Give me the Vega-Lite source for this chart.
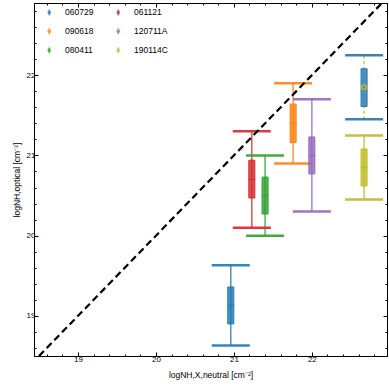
{
  "$schema": "https://vega.github.io/schema/vega-lite/v6.json",
  "width": 353,
  "height": 353,
  "autosize": {"type": "none"},
  "padding": {"left": 34, "top": 3, "right": 2, "bottom": 33},
  "config": {
    "font": "Liberation Sans",
    "view": {"stroke": "black", "strokeWidth": 1},
    "axis": {"grid": false, "domainColor": "black", "tickColor": "black", "labelColor": "black", "titleColor": "black", "labelFont": "Liberation Sans", "titleFont": "Liberation Sans", "labelFontSize": 8, "titleFontSize": 8.5, "titleFontWeight": "normal", "labelOverlap": false, "labelFlush": false}
  },
  "datasets": {
    "grbs": [
      {"grb": "060729", "set": "main", "x": 20.96, "lo": 18.63, "hi": 19.63, "q1": 18.90, "q3": 19.36, "med": 19.13},
      {"grb": "061121", "set": "main", "x": 21.23, "lo": 20.10, "hi": 21.30, "q1": 20.47, "q3": 20.94, "med": 20.70},
      {"grb": "080411", "set": "main", "x": 21.40, "lo": 20.00, "hi": 21.00, "q1": 20.27, "q3": 20.73, "med": 20.50},
      {"grb": "090618", "set": "main", "x": 21.76, "lo": 20.90, "hi": 21.90, "q1": 21.16, "q3": 21.64, "med": 21.40},
      {"grb": "120711A", "set": "main", "x": 22.00, "lo": 20.30, "hi": 21.70, "q1": 20.77, "q3": 21.23, "med": 21.00},
      {"grb": "190114C", "set": "main", "x": 22.67, "lo": 20.45, "hi": 21.25, "q1": 20.62, "q3": 21.08, "med": 20.85},
      {"grb": "060729", "set": "extra", "x": 22.67, "lo": 21.45, "hi": 22.25, "q1": 21.61, "q3": 22.08, "med": 21.85}
    ],
    "overlay": [
      {"grb": "190114C", "x": 22.67, "lo": 21.45, "hi": 22.25, "med": 21.85}
    ],
    "diag": [
      {"x": 18.5, "y": 18.5, "x2": 22.9, "y2": 22.9}
    ]
  },
  "resolve": {"axis": {"x": "independent", "y": "independent"}},
  "layer": [
    {
      "data": {"name": "overlay"},
      "mark": {"type": "rule", "strokeDash": [3, 2.5], "strokeWidth": 1.2, "clip": true},
      "encoding": {
        "x": {"field": "x", "type": "quantitative", "scale": {"domain": [18.5, 22.9], "nice": false, "zero": false},
          "axis": {"orient": "bottom", "title": "logNH,X,neutral [cm⁻²]", "titlePadding": 5,
            "values": [18.6,18.8,19,19.2,19.4,19.6,19.8,20,20.2,20.4,20.6,20.8,21,21.2,21.4,21.6,21.8,22,22.2,22.4,22.6,22.8],
            "labelExpr": "abs(datum.value - round(datum.value)) < 0.001 ? format(datum.value, 'd') : ''",
            "tickSize": {"condition": {"test": "abs(datum.value - round(datum.value)) < 0.001", "value": -4}, "value": -2},
            "labelPadding": 3}},
        "y": {"field": "lo", "type": "quantitative", "scale": {"domain": [18.5, 22.9], "nice": false, "zero": false},
          "axis": {"orient": "left", "title": "logNH,optical [cm⁻²]", "titlePadding": 5,
            "values": [18.6,18.8,19,19.2,19.4,19.6,19.8,20,20.2,20.4,20.6,20.8,21,21.2,21.4,21.6,21.8,22,22.2,22.4,22.6,22.8],
            "labelExpr": "abs(datum.value - round(datum.value)) < 0.001 ? format(datum.value, 'd') : ''",
            "tickSize": {"condition": {"test": "abs(datum.value - round(datum.value)) < 0.001", "value": -4}, "value": -2},
            "labelPadding": 3}},
        "y2": {"field": "hi"},
        "color": {"field": "grb", "type": "nominal",
          "scale": {"domain": ["060729", "090618", "080411", "061121", "120711A", "190114C"],
                    "range": ["#1f77b4", "#ff7f0e", "#2ca02c", "#d62728", "#9467bd", "#bcbd22"]},
          "legend": {"title": null, "orient": "none", "legendX": 11, "legendY": 5, "columns": 2, "padding": 0,
            "symbolType": "M0,-1L0.55,0L0,1L-0.55,0Z", "symbolSize": 49, "symbolStrokeWidth": 0,
            "labelFont": "Liberation Sans", "labelFontSize": 8.5, "labelColor": "black", "labelOffset": 11.5,
            "rowPadding": 10, "columnPadding": 20}}
      }
    },
    {
      "data": {"name": "grbs"},
      "transform": [{"filter": "datum.set == 'main'"}],
      "mark": {"type": "rule", "strokeWidth": 1.5, "opacity": 0.8, "clip": true},
      "encoding": {
        "x": {"field": "x", "type": "quantitative",
          "axis": {"orient": "top", "title": null, "labels": false,
            "values": [18.6,18.8,19,19.2,19.4,19.6,19.8,20,20.2,20.4,20.6,20.8,21,21.2,21.4,21.6,21.8,22,22.2,22.4,22.6,22.8],
            "tickSize": {"condition": {"test": "abs(datum.value - round(datum.value)) < 0.001", "value": -4}, "value": -2}}},
        "y": {"field": "lo", "type": "quantitative",
          "axis": {"orient": "right", "title": null, "labels": false,
            "values": [18.6,18.8,19,19.2,19.4,19.6,19.8,20,20.2,20.4,20.6,20.8,21,21.2,21.4,21.6,21.8,22,22.2,22.4,22.6,22.8],
            "tickSize": {"condition": {"test": "abs(datum.value - round(datum.value)) < 0.001", "value": -4}, "value": -2}}},
        "y2": {"field": "hi"},
        "color": {"field": "grb", "type": "nominal"}
      }
    },
    {
      "data": {"name": "grbs"},
      "mark": {"type": "tick", "orient": "horizontal", "size": 38, "thickness": 2.5, "opacity": 0.9, "clip": true},
      "encoding": {
        "x": {"field": "x", "type": "quantitative", "axis": null},
        "y": {"field": "lo", "type": "quantitative", "axis": null},
        "color": {"field": "grb", "type": "nominal"}
      }
    },
    {
      "data": {"name": "grbs"},
      "mark": {"type": "tick", "orient": "horizontal", "size": 38, "thickness": 2.5, "opacity": 0.9, "clip": true},
      "encoding": {
        "x": {"field": "x", "type": "quantitative", "axis": null},
        "y": {"field": "hi", "type": "quantitative", "axis": null},
        "color": {"field": "grb", "type": "nominal"}
      }
    },
    {
      "data": {"name": "grbs"},
      "mark": {"type": "bar", "width": 6, "fillOpacity": 0.8, "strokeWidth": 1, "clip": true},
      "encoding": {
        "x": {"field": "x", "type": "quantitative", "axis": null},
        "y": {"field": "q1", "type": "quantitative", "axis": null},
        "y2": {"field": "q3"},
        "color": {"field": "grb", "type": "nominal"},
        "stroke": {"field": "grb", "type": "nominal",
          "scale": {"domain": ["060729", "090618", "080411", "061121", "120711A", "190114C"],
                    "range": ["#1f77b4", "#ff7f0e", "#2ca02c", "#d62728", "#9467bd", "#bcbd22"]}}
      }
    },
    {
      "data": {"name": "grbs"},
      "transform": [{"filter": "datum.set == 'main'"}],
      "mark": {"type": "tick", "orient": "horizontal", "size": 7, "thickness": 1.5, "clip": true},
      "encoding": {
        "x": {"field": "x", "type": "quantitative", "axis": null},
        "y": {"field": "med", "type": "quantitative", "axis": null},
        "color": {"field": "grb", "type": "nominal"}
      }
    },
    {
      "data": {"name": "overlay"},
      "mark": {"type": "point", "shape": "circle", "size": 22, "filled": false, "strokeWidth": 1.5, "opacity": 1, "clip": true},
      "encoding": {
        "x": {"field": "x", "type": "quantitative", "axis": null},
        "y": {"field": "med", "type": "quantitative", "axis": null},
        "color": {"field": "grb", "type": "nominal"}
      }
    },
    {
      "data": {"name": "diag"},
      "mark": {"type": "rule", "color": "black", "strokeWidth": 2.2, "strokeDash": [7, 4], "clip": true},
      "encoding": {
        "x": {"field": "x", "type": "quantitative", "axis": null},
        "y": {"field": "y", "type": "quantitative", "axis": null},
        "x2": {"field": "x2"},
        "y2": {"field": "y2"}
      }
    }
  ]
}
